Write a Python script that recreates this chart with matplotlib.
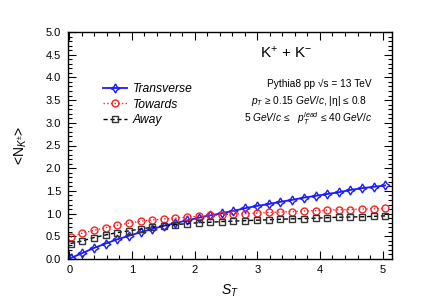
import numpy as np
import matplotlib
matplotlib.use("Agg")
import matplotlib.pyplot as plt
from matplotlib.ticker import MultipleLocator

plt.rcParams['font.family'] = ['Liberation Sans', 'DejaVu Sans']
plt.rcParams['mathtext.fontset'] = 'custom'
plt.rcParams['mathtext.rm'] = 'Liberation Sans'
plt.rcParams['mathtext.it'] = 'Liberation Sans:italic'
plt.rcParams['mathtext.bf'] = 'Liberation Sans:bold'

# S_T bin positions
st = [0.02, 0.21, 0.39, 0.58, 0.76, 0.95, 1.14, 1.32, 1.51, 1.69, 1.88, 2.07,
      2.25, 2.44, 2.62, 2.81, 3.00, 3.18, 3.37, 3.55, 3.74, 3.93, 4.11, 4.30,
      4.48, 4.67, 4.86, 5.04]

transverse = [0.02, 0.13, 0.24, 0.34, 0.43, 0.51, 0.59, 0.66, 0.73, 0.79, 0.85,
              0.91, 0.96, 1.01, 1.06, 1.12, 1.17, 1.21, 1.26, 1.30, 1.35, 1.39,
              1.43, 1.47, 1.52, 1.56, 1.59, 1.62]
towards = [0.48, 0.57, 0.63, 0.69, 0.74, 0.79, 0.83, 0.86, 0.88, 0.90, 0.92,
           0.94, 0.96, 0.975, 0.99, 1.00, 1.01, 1.025, 1.035, 1.045, 1.055,
           1.065, 1.075, 1.085, 1.09, 1.10, 1.105, 1.115]
away = [0.34, 0.40, 0.47, 0.53, 0.58, 0.62, 0.66, 0.70, 0.73, 0.755, 0.78,
        0.80, 0.81, 0.825, 0.835, 0.845, 0.855, 0.865, 0.875, 0.885, 0.89,
        0.90, 0.91, 0.92, 0.925, 0.93, 0.94, 0.95]

labels = ['Transverse', 'Towards', 'Away']

fig = plt.figure(figsize=(4.36, 3.05), dpi=100)
ax = fig.add_axes([68/436, (305-259)/305, (392-68)/436, (259-32)/305])

ms = 5
ax.plot(st, transverse, color='#1a1aff', lw=1.3, ls='-', marker=(4, 1, 0),
        ms=6.5, mfc='none', mec='#1a1aff', mew=1.0, label=labels[0])
ax.plot(st, towards, color='#ff2020', lw=1.0, ls=':', marker='o',
        ms=ms, mfc='none', mec='#ff2020', mew=1.0, label=labels[1])
ax.plot(st, away, color='black', lw=1.0, ls=(0, (3, 2)), marker='s',
        ms=ms, mfc='none', mec='#333333', mew=1.0, label=labels[2])

ax.set_xlim(-0.02, 5.15)
ax.set_ylim(0, 5.0)
ax.xaxis.set_major_locator(MultipleLocator(1))
ax.xaxis.set_minor_locator(MultipleLocator(0.2))
ax.yaxis.set_major_locator(MultipleLocator(0.5))
ax.yaxis.set_minor_locator(MultipleLocator(0.1))
ax.yaxis.set_major_formatter(matplotlib.ticker.FormatStrFormatter('%.1f'))
ax.tick_params(which='both', direction='in', top=True, right=True, labelsize=8)
ax.tick_params(which='major', length=6, width=0.8)
ax.tick_params(which='minor', length=3, width=0.8)
ax.tick_params(axis='y', pad=5)
ax.tick_params(axis='x', pad=4)
for s in ax.spines.values():
    s.set_linewidth(1.0)

ax.set_xlabel('$S_{T}$', fontsize=10, labelpad=6)
ax.set_ylabel(r'<N$_{K^{\pm}}$>', fontsize=10, labelpad=12)

leg = ax.legend(loc='upper left', bbox_to_anchor=((103-68)/324, (259-83)/227),
                frameon=False, fontsize=8.7, handlelength=2.0, handletextpad=0.45,
                labelspacing=0.3, borderpad=0, borderaxespad=0)
for t in leg.get_texts():
    t.set_fontstyle('italic')

ax.text((286-68)/324, (259-53)/227, r'K$^{+}$ + K$^{-}$', transform=ax.transAxes,
        ha='center', va='center', fontsize=11)
ax.text((372-68)/324, (259-84)/227, 'Pythia8 pp √s = 13 TeV', transform=ax.transAxes,
        ha='right', va='center', fontsize=7.3)
ax.text((367-68)/324, (259-101.5)/227, r'$p_{T}$ ≥ 0.15 $GeV/c$, |η| ≤ 0.8',
        transform=ax.transAxes, ha='right', va='center', fontsize=7.3)
ax.text((372-68)/324, (259-118.5)/227, r'5 $GeV/c$ ≤   $p_{T}^{lead}$ ≤ 40 $GeV/c$',
        transform=ax.transAxes, ha='right', va='center', fontsize=7.3)

fig.savefig('out.png', dpi=100)
